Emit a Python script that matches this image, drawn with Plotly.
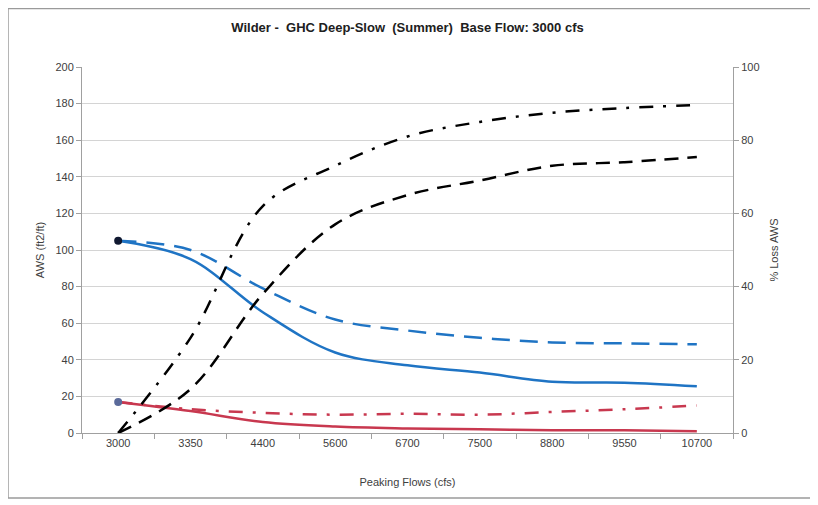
import plotly.graph_objects as go

# Peaking flow categories (cfs)
flows = ['3000', '3350', '4400', '5600', '6700', '7500', '8800', '9550', '10700']

# AWS (ft2/ft) - left axis
aws_blue_solid = [105, 95, 66, 44, 37, 33, 28, 27.5, 25.5]
aws_blue_dash = [105, 100, 79, 62, 56, 52, 49.5, 49, 48.5]
aws_red_solid = [17, 12, 6, 3.5, 2.5, 2, 1.5, 1.5, 1]
aws_red_dashdot = [17, 13, 11, 10, 10.5, 10, 11.5, 13, 15]

# % Loss AWS - right axis
loss_dashdot = [0, 26, 62, 73, 81, 85, 87.5, 88.8, 89.6]
loss_dash = [0, 12, 38, 57, 65, 69, 73, 74, 75.4]

BLUE = '#1f74c4'
RED = '#c8384f'

fig = go.Figure()

fig.add_trace(go.Scatter(x=flows, y=aws_blue_dash, mode='lines', yaxis='y',
                         line=dict(color=BLUE, width=2.5, dash='18px,10px', shape='spline')))
fig.add_trace(go.Scatter(x=flows, y=aws_blue_solid, mode='lines', yaxis='y',
                         line=dict(color=BLUE, width=2.5, shape='spline')))
fig.add_trace(go.Scatter(x=flows, y=aws_red_dashdot, mode='lines', yaxis='y',
                         line=dict(color=RED, width=2.5, dash='14px,10px,3px,10px', shape='spline')))
fig.add_trace(go.Scatter(x=flows, y=aws_red_solid, mode='lines', yaxis='y',
                         line=dict(color=RED, width=2.5, shape='spline')))
fig.add_trace(go.Scatter(x=flows, y=loss_dashdot, mode='lines', yaxis='y2',
                         line=dict(color='black', width=2.5, dash='14px,10px,3px,10px', shape='spline')))
fig.add_trace(go.Scatter(x=flows, y=loss_dash, mode='lines', yaxis='y2',
                         line=dict(color='black', width=2.5, dash='14px,9px', shape='spline')))

# markers at the base-flow points
fig.add_trace(go.Scatter(x=flows[:1], y=aws_blue_solid[:1], mode='markers',
                         marker=dict(color='#101830', size=8)))
fig.add_trace(go.Scatter(x=flows[:1], y=aws_red_solid[:1], mode='markers',
                         marker=dict(color='#5a6a9a', size=8)))

axis_font = dict(family='Liberation Sans, Arial, sans-serif', size=11, color='#404040')

# page body has an 8px margin, so margins are shifted to land the plot where the reference has it
fig.update_layout(
    width=818, height=505,
    paper_bgcolor='white', plot_bgcolor='white',
    showlegend=False,
    margin=dict(l=74, r=93, t=59, b=80),
    font=dict(family='Liberation Sans, Arial, sans-serif'),
    title=dict(text='<b>Wilder -  GHC Deep-Slow  (Summer)  Base Flow: 3000 cfs</b>',
               x=0.5, xanchor='center', xref='paper', y=0.962, yanchor='middle',
               font=dict(size=13, color='#202020')),
    xaxis=dict(type='category', showgrid=False, showline=True, linecolor='#a0a0a0',
               ticks='outside', ticklen=5, tickcolor='#a0a0a0', tickson='boundaries',
               tickfont=axis_font, range=[-0.5, 8.5],
               title=dict(text='Peaking Flows (cfs)', font=axis_font, standoff=30)),
    yaxis=dict(range=[0, 200], dtick=20, showgrid=True, gridcolor='#d4d4d4', gridwidth=1,
               showline=True, linecolor='#a0a0a0', ticks='outside', ticklen=5,
               tickcolor='#a0a0a0', tickfont=axis_font, zeroline=False,
               title=dict(text='AWS (ft2/ft)', font=axis_font, standoff=8)),
    yaxis2=dict(range=[0, 100], dtick=20, overlaying='y', side='right', showgrid=False,
                showline=True, linecolor='#a0a0a0', ticks='outside', ticklen=5,
                tickcolor='#a0a0a0', tickfont=axis_font, zeroline=False,
                title=dict(text='% Loss AWS', font=axis_font, standoff=11)),
)

# outer chart frame
fig.add_shape(type='rect', xref='paper', yref='paper',
              x0=-0.1137, x1=1.1214, y0=-0.1776, y1=1.16,
              line=dict(color='#9a9a9a', width=1.5), layer='below')

fig.write_html("out.html")
